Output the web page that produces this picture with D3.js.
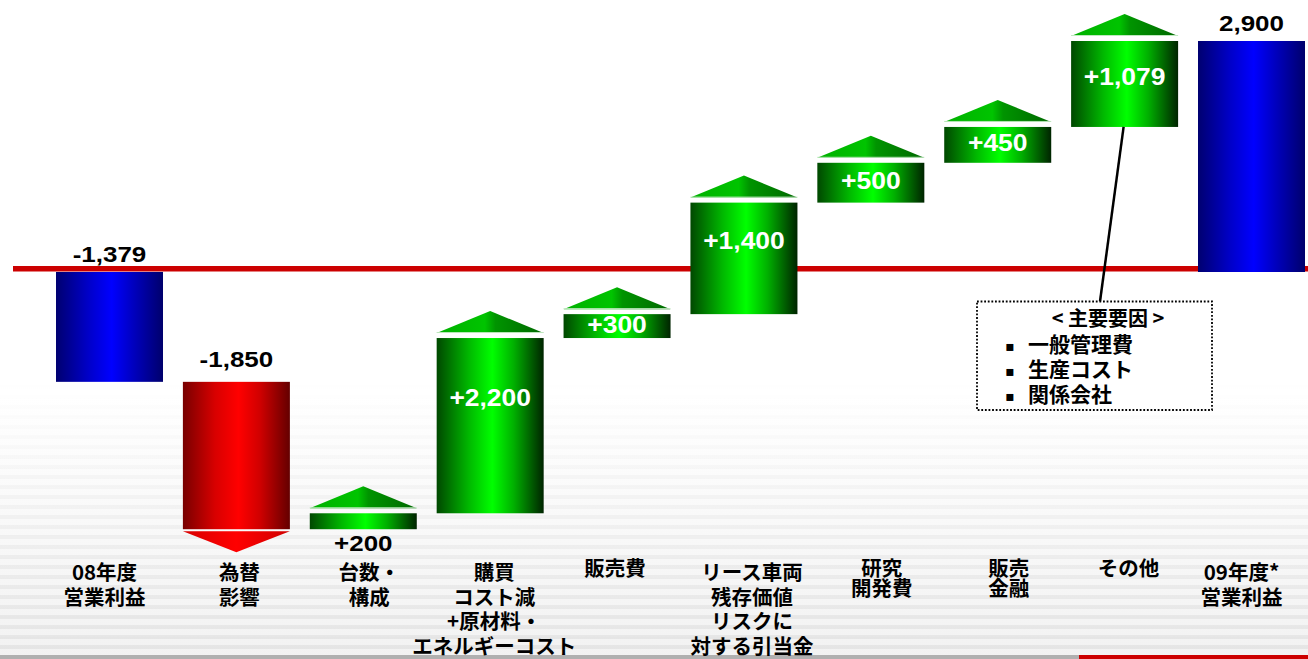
<!DOCTYPE html>
<html><head><meta charset="utf-8">
<script src="https://cdn.jsdelivr.net/npm/d3@7"></script>
<style>
html,body{margin:0;padding:0;background:#fff;overflow:hidden}
svg{display:block}
</style></head>
<body>
<svg id="chart" width="1308" height="659"></svg>
<script>
// ---------- data ----------
const categories = [
  ["08年度","営業利益"],
  ["為替","影響"],
  ["台数・","構成"],
  ["購買","コスト減","+原材料・","エネルギーコスト"],
  ["販売費"],
  ["リース車両","残存価値","リスクに","対する引当金"],
  ["研究","開発費"],
  ["販売","金融"],
  ["その他"],
  ["09年度*","営業利益"]
];
const values = [-1379, -1850, 200, 2200, 300, 1400, 500, 450, 1079, 2900];
const kinds = ["total","delta","delta","delta","delta","delta","delta","delta","delta","total"];
const valueLabels = ["-1,379","-1,850","+200","+2,200","+300","+1,400","+500","+450","+1,079","2,900"];
const noteTitle = "< 主要要因 >";
const noteItems = ["一般管理費","生産コスト","関係会社"];

// ---------- layout ----------
const W = 1308, H = 659;
const svg = d3.select("#chart");
const defs = svg.append("defs");

const x = d3.scalePoint().domain(d3.range(values.length)).range([109.5, 1251.5]);
const bw = 107;
const y = d3.scaleLinear().domain([0, 2900]).range([272, 41]);
// small horizontal nudges of the category captions (layout only)
const captionShift = [-5, 3, 6, 4, -2, 8, 11, 11, 4, -10];

// cumulative
let run = 0;
const bars = values.map((v, i) => {
  let s, e;
  if (kinds[i] === "total") { s = 0; e = v; run = v; }
  else { s = run; e = run + v; run = e; }
  return {i, v, s, e, kind: kinds[i], label: valueLabels[i], cat: categories[i]};
});

// ---------- background ----------
const bg = defs.append("linearGradient").attr("id","bgGrad").attr("x1",0).attr("y1",0).attr("x2",0).attr("y2",1);
bg.append("stop").attr("offset","0").attr("stop-color","#ffffff");
bg.append("stop").attr("offset","0.6").attr("stop-color","#ffffff");
bg.append("stop").attr("offset","1").attr("stop-color","#f2f2f2");
svg.append("rect").attr("width",W).attr("height",H).attr("fill","url(#bgGrad)");

const pat = defs.append("pattern").attr("id","stripes").attr("patternUnits","userSpaceOnUse")
  .attr("width",20).attr("height",10);
pat.append("rect").attr("y",5).attr("width",20).attr("height",4).attr("fill","#dcdcdc");
const mg = defs.append("linearGradient").attr("id","maskGrad").attr("x1",0).attr("y1",0).attr("x2",0).attr("y2",1);
mg.append("stop").attr("offset","0").attr("stop-color","#000");
mg.append("stop").attr("offset","0.25").attr("stop-color","#333");
mg.append("stop").attr("offset","1").attr("stop-color","#fff");
const mask = defs.append("mask").attr("id","stripeMask").attr("maskUnits","userSpaceOnUse")
  .attr("x",0).attr("y",380).attr("width",W).attr("height",280);
mask.append("rect").attr("x",0).attr("y",380).attr("width",W).attr("height",276).attr("fill","url(#maskGrad)");
svg.append("rect").attr("x",0).attr("y",380).attr("width",W).attr("height",276)
  .attr("fill","url(#stripes)").attr("mask","url(#stripeMask)").attr("opacity",0.6);

// bottom band
svg.append("rect").attr("x",0).attr("y",655).attr("width",W).attr("height",4).attr("fill","#b0b0b0");
svg.append("rect").attr("x",1079).attr("y",655).attr("width",W-1079).attr("height",4).attr("fill","#cc0000");

// ---------- gradients ----------
function hGrad(id, stops) {
  const g = defs.append("linearGradient").attr("id", id).attr("x1",0).attr("y1",0).attr("x2",1).attr("y2",0);
  stops.forEach(([o,c]) => g.append("stop").attr("offset",o).attr("stop-color",c));
}
hGrad("gGreen", [[0,"#004800"],[0.3,"#00b800"],[0.52,"#00ff00"],[0.72,"#00b000"],[1,"#002400"]]);
hGrad("gBlue",  [[0,"#000070"],[0.3,"#0000c8"],[0.52,"#0000ff"],[0.72,"#0000c0"],[1,"#00006c"]]);
hGrad("gRed",   [[0,"#780000"],[0.3,"#d80000"],[0.52,"#ff0000"],[0.72,"#d00000"],[1,"#640000"]]);
hGrad("gTriG",  [[0,"#00b000"],[0.45,"#00c400"],[0.55,"#009400"],[1,"#006800"]]);
hGrad("gTriR",  [[0,"#d80000"],[0.5,"#ff0000"],[1,"#d00000"]]);

// ---------- zero line ----------
svg.append("line").attr("x1",13).attr("x2",W).attr("y1",y(0)-3.2).attr("y2",y(0)-3.2)
  .attr("stroke","#cc0000").attr("stroke-width",5.5);

// ---------- bars ----------
const g = svg.append("g");
bars.forEach(b => {
  const cx = x(b.i);
  const top = y(Math.max(b.s, b.e)), bot = y(Math.min(b.s, b.e));
  b.cx = cx; b.top = top; b.bot = bot;
  let fill;
  if (b.kind === "total") fill = "url(#gBlue)";
  else if (b.v < 0) fill = "url(#gRed)";
  else fill = "url(#gGreen)";
  g.append("rect").attr("x", cx - bw/2).attr("y", top).attr("width", bw).attr("height", bot - top).attr("fill", fill);
  if (b.kind === "delta") {
    if (b.v > 0) {
      const base = top - 5, apex = top - 27;
      g.append("path").attr("d", d3.line()([[cx - bw/2, base],[cx, apex],[cx + bw/2, base]]) + "Z")
        .attr("fill","url(#gTriG)");
      g.append("line").attr("x1",cx-bw/2).attr("x2",cx+bw/2).attr("y1",base-0.5).attr("y2",base-0.5)
        .attr("stroke","#bfe8bf").attr("stroke-width",1);
    } else {
      const base = bot + 2, apex = bot + 23;
      g.append("path").attr("d", d3.line()([[cx - bw/2, base],[cx, apex],[cx + bw/2, base]]) + "Z")
        .attr("fill","url(#gTriR)");
    }
  }
});

// ---------- value labels ----------
function numLabel(cx, yb, txt, color, size, sx) {
  svg.append("text").attr("transform", `translate(${cx},${yb}) scale(${sx},1)`)
    .attr("text-anchor","middle")
    .attr("font-family","'Liberation Sans', Arial, sans-serif")
    .attr("font-weight","bold").attr("font-size", size).attr("fill", color).text(txt);
}
bars.forEach(b => {
  const h = b.bot - b.top;
  if (b.kind === "total") numLabel(b.cx, b.top - 10.5, b.label, "#000", 22, 1.18);
  else if (b.v < 0) numLabel(b.cx, b.top - 15, b.label, "#000", 22, 1.18);
  else if (h < 20) numLabel(b.cx, b.bot + 22, b.label, "#000", 22, 1.18);
  else {
    const c = h < 50 ? b.top + h/2 - 1.5 : b.top + Math.max(h*0.34, 36);
    numLabel(b.cx, c + 8, b.label, "#fff", 23, 1.15);
  }
});

// ---------- category labels ----------
const tight = new Set([6,7]);
const high = new Set([4,6,7,8]);
bars.forEach(b => {
  const lh = tight.has(b.i) ? 19.5 : 24.5;
  const y0 = high.has(b.i) ? 576 : 580;
  const t = svg.append("text").attr("text-anchor","middle")
    .attr("font-family","'Noto Sans CJK JP', 'Noto Sans CJK SC', sans-serif")
    .attr("font-weight","bold").attr("font-size",20.5).attr("fill","#000");
  b.cat.forEach((line, k) => {
    t.append("tspan").attr("x", b.cx + captionShift[b.i]).attr("y", y0 + k*lh).text(line);
  });
});

// ---------- annotation ----------
const box = {x: 977, y: 301.5, w: 235, h: 108.5};
const other = bars[8];
svg.append("line").attr("x1", other.cx - 1).attr("y1", other.bot)
  .attr("x2", box.x + 123).attr("y2", box.y).attr("stroke","#000").attr("stroke-width",2.5);
svg.append("rect").attr("x",box.x).attr("y",box.y).attr("width",box.w).attr("height",box.h)
  .attr("fill","#fff").attr("stroke","#000").attr("stroke-width",1.8).attr("stroke-dasharray","1.8,1.8");
svg.append("text").attr("x", box.x + 131).attr("y", box.y + 24).attr("text-anchor","middle")
  .attr("font-family","'Noto Sans CJK JP', sans-serif").attr("font-weight","bold")
  .attr("font-size",20).attr("fill","#000").attr("xml:space","preserve").text(noteTitle);
noteItems.forEach((t, k) => {
  const yb = box.y + 50 + k*25;
  svg.append("text").attr("x", box.x + 33).attr("y", yb - 1).attr("text-anchor","middle")
    .attr("font-family","'DejaVu Sans', sans-serif").attr("font-size",14).attr("fill","#000").text("▪");
  svg.append("text").attr("x", box.x + 51).attr("y", yb)
    .attr("font-family","'Noto Sans CJK JP', sans-serif").attr("font-weight","bold")
    .attr("font-size",21).attr("fill","#000").text(t);
});
</script>
</body></html>
